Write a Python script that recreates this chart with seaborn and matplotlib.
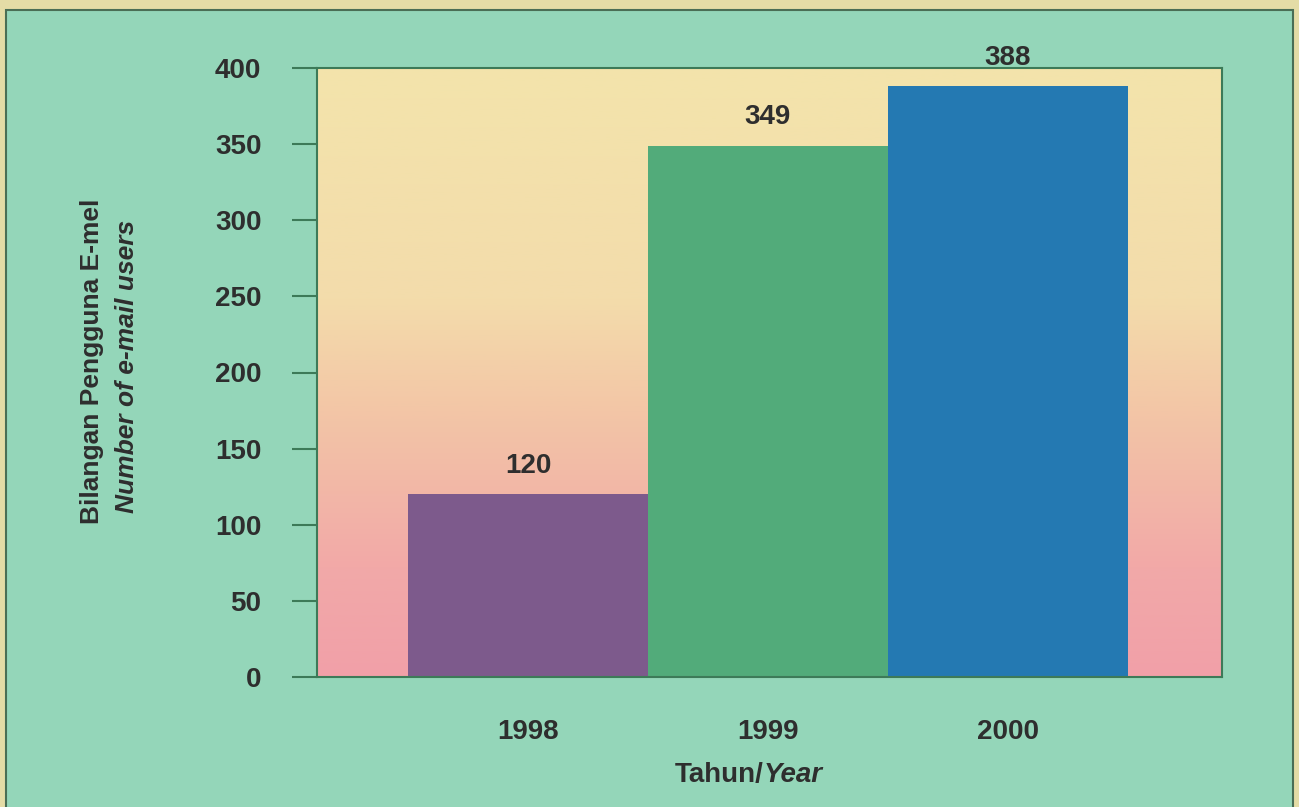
import numpy as np
import matplotlib
matplotlib.use("Agg")
import matplotlib.pyplot as plt
from matplotlib.colors import LinearSegmentedColormap
from matplotlib.patches import Rectangle
import seaborn as sns
import pandas as pd

# Data
years = ["1998", "1999", "2000"]
users = [120, 349, 388]
bar_colors = ["#7d5a8c", "#52ab7a", "#2479b2"]
y_ticks = [0, 50, 100, 150, 200, 250, 300, 350, 400]

sns.set_theme(style="white")
plt.rcParams["font.family"] = ["Liberation Sans", "DejaVu Sans"]

TEXT = "#2e2e2e"
EDGE = "#3d7a58"
TEAL = "#94d6b9"

fig = plt.figure(figsize=(12.99, 8.07), dpi=100)
fig.patch.set_facecolor("#e4dca6")
# teal panel with a thin dark frame, kept beneath the axes
fig.patches.append(Rectangle((6 / 1299, -0.05), (1293 - 6) / 1299, (807 - 10) / 807 + 0.05,
                             transform=fig.transFigure, facecolor=TEAL,
                             edgecolor="#4a6e55", linewidth=1.5, zorder=-10))

ax = fig.add_axes([317 / 1299, 130 / 807, (1222 - 317) / 1299, (677 - 68) / 807])
ax.set_facecolor("none")

# yellow-to-pink gradient behind the bars
grad_cmap = LinearSegmentedColormap.from_list(
    "paper",
    [(0.0, "#f1a0a8"), (0.18, "#f2a9a8"), (0.42, "#f3c4a6"),
     (0.62, "#f3dcab"), (1.0, "#f3e4ab")])
grad = np.linspace(0, 1, 256).reshape(-1, 1)
ax.imshow(grad, cmap=grad_cmap, aspect="auto", origin="lower",
          extent=[0, 1, 0, 1], transform=ax.transAxes, zorder=0)

df = pd.DataFrame({"year": years, "users": users})
sns.barplot(data=df, x="year", y="users", hue="year", palette=bar_colors,
            width=1.0, saturation=1.0, legend=False, ax=ax, zorder=2,
            linewidth=0)

for cont in ax.containers:
    ax.bar_label(cont, fmt="%d", padding=11, fontsize=20, fontweight="bold",
                 color=TEXT)

ax.set_xlim(-0.879, 2.892)
ax.set_ylim(0, 400)
ax.set_yticks(y_ticks)
ax.set_yticklabels([str(t) for t in y_ticks], fontsize=20, fontweight="bold",
                   color=TEXT)
ax.set_xticks(range(len(years)))
ax.set_xticklabels(years, fontsize=20, fontweight="bold", color=TEXT)
ax.tick_params(axis="y", which="both", left=True, length=18, width=1.5,
               color=EDGE, pad=22, direction="out")
ax.tick_params(axis="x", which="both", bottom=False, length=0, pad=30)
ax.set_xlabel("")
ax.set_ylabel("")

for side in ["left", "right", "top", "bottom"]:
    ax.spines[side].set_visible(True)
    ax.spines[side].set_color(EDGE)
    ax.spines[side].set_linewidth(1.5)
    ax.spines[side].set_zorder(3)

# y-axis title in two lines (Malay / English)
fig.text(92 / 1299, 1 - 361 / 807, "Bilangan Pengguna E-mel", rotation=90,
         ha="center", va="center", fontsize=19, fontweight="bold", color=TEXT)
fig.text(127 / 1299, 1 - 366 / 807, "Number of e-mail users", rotation=90,
         ha="center", va="center", fontsize=19, fontweight="bold",
         style="italic", color=TEXT)

# x-axis title
xs = 764 / 1299
ys = 1 - 775 / 807
fig.text(xs, ys, "Tahun/", ha="right", va="center", fontsize=20,
         fontweight="bold", color=TEXT)
fig.text(xs, ys, "Year", ha="left", va="center", fontsize=20,
         fontweight="bold", style="italic", color=TEXT)

fig.savefig("out.png", dpi=100, facecolor=fig.get_facecolor())
